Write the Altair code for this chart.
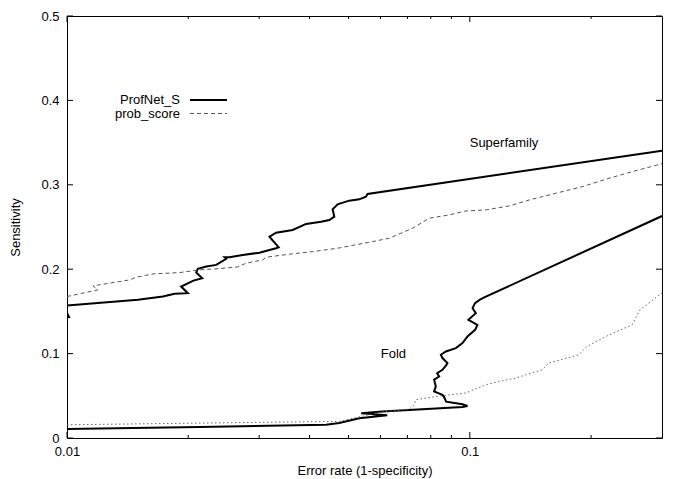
import altair as alt
import pandas as pd

# ---- data ----
# Superfamily, ProfNet_S (solid black)
sf_pn_x = [0.0098, 0.01012, 0.0098, 0.0100, 0.0150, 0.0173, 0.0185, 0.01995, 0.0192, 0.0206,
           0.02166, 0.02093, 0.02112, 0.02216, 0.02347, 0.02484, 0.0246, 0.02531, 0.02731, 0.03004,
           0.03181, 0.03304, 0.03353, 0.03181, 0.03304, 0.03633, 0.03922, 0.04273, 0.04479, 0.04609,
           0.04565, 0.04697, 0.05019, 0.05315, 0.05522, 0.05573, 0.300]
sf_pn_y = [0.1425, 0.1432, 0.1565, 0.157, 0.1637, 0.1676, 0.1708, 0.1716, 0.1794, 0.1865,
           0.1893, 0.1960, 0.2004, 0.2031, 0.2051, 0.2122, 0.2142, 0.2142, 0.2169, 0.2196,
           0.2228, 0.2249, 0.2260, 0.2386, 0.2433, 0.2465, 0.2536, 0.2563, 0.2583, 0.2622,
           0.2710, 0.2769, 0.2812, 0.2828, 0.2859, 0.2891, 0.3405]

# Superfamily, prob_score (dashed grey)
sf_ps_x = [0.0100, 0.01194, 0.01160, 0.01430, 0.01486, 0.01633, 0.01903, 0.02133, 0.02391, 0.02650,
           0.02784, 0.03061, 0.03120, 0.03565, 0.04073, 0.04743, 0.05735, 0.06310, 0.07208, 0.07928,
           0.08885, 0.09775, 0.1095, 0.1252, 0.1403, 0.1633, 0.1902, 0.2215, 0.2529, 0.300]
sf_ps_y = [0.1676, 0.1755, 0.1802, 0.1873, 0.1905, 0.1944, 0.1960, 0.1992, 0.2007, 0.2027,
           0.2071, 0.2110, 0.2142, 0.2178, 0.2208, 0.2252, 0.2327, 0.2367, 0.2485, 0.2604,
           0.2643, 0.2690, 0.2702, 0.2749, 0.2820, 0.2899, 0.2978, 0.3077, 0.3155, 0.3250]

# Fold, ProfNet_S (solid black)
fold_pn_x = [0.0100, 0.02133, 0.04395, 0.04742, 0.05316, 0.06237, 0.05376, 0.06062, 0.09588, 0.09865,
             0.09588, 0.08734, 0.08635, 0.08550, 0.08155, 0.08233, 0.08155, 0.08392, 0.08296, 0.08553,
             0.08721, 0.08802, 0.08553, 0.08475, 0.08721, 0.09232, 0.09588, 0.09865, 0.1031, 0.1044,
             0.09920, 0.1035, 0.1016, 0.1030, 0.1060, 0.1086, 0.300]
fold_pn_y = [0.0107, 0.0130, 0.0157, 0.0178, 0.0233, 0.0270, 0.0293, 0.0315, 0.0367, 0.0380,
             0.0400, 0.0430, 0.0485, 0.0512, 0.0552, 0.0611, 0.0690, 0.0729, 0.0767, 0.0808,
             0.0856, 0.0888, 0.0947, 0.0986, 0.1025, 0.1065, 0.1124, 0.1202, 0.1282, 0.1341,
             0.1400, 0.1479, 0.1538, 0.1598, 0.1640, 0.1666, 0.2630]

# Fold, prob_score (dotted grey)
fold_ps_x = [0.0100, 0.04742, 0.05960, 0.07073, 0.07278, 0.07346, 0.08233, 0.09775, 0.1095, 0.1182,
             0.1300, 0.1514, 0.1572, 0.1866, 0.1939, 0.2173, 0.2529, 0.2644, 0.300]
fold_ps_y = [0.0157, 0.0197, 0.0303, 0.0343, 0.0394, 0.0453, 0.0492, 0.0533, 0.0631, 0.0670,
             0.0710, 0.0808, 0.0888, 0.0986, 0.1075, 0.1202, 0.1341, 0.1518, 0.1720]

# annotations
ann_labels = ["Superfamily", "Fold"]
ann_x = [0.1216, 0.0646]
ann_y = [0.3495, 0.0998]

legend_names = ["ProfNet_S", "prob_score"]

# axis ticks
x_major = [0.01, 0.1]
x_minor = [0.02, 0.03, 0.04, 0.05, 0.06, 0.07, 0.08, 0.09, 0.2]
y_major = [0.0, 0.1, 0.2, 0.3, 0.4, 0.5]

FONT = "Liberation Sans"
W, H = 595, 422


def frame(xs, ys, name):
    return pd.DataFrame({"x": xs, "y": ys, "curve": name, "i": list(range(len(xs)))})


xscale = alt.Scale(type="log", domain=[0.01, 0.3], nice=False)
yscale = alt.Scale(domain=[0, 0.5], nice=False)

x_axis = alt.Axis(values=x_major, format="~g", ticks=False, domain=False, grid=False,
                  labelFlush=False, labelOverlap=False,
                  labelPadding=7, labelFontSize=13, labelFont=FONT, labelColor="black",
                  title="Error rate (1-specificity)", titleFont=FONT, titleFontSize=13,
                  titleFontWeight="normal", titleColor="black",
                  titleX=W / 2, titleY=32, titleBaseline="middle", titleAlign="center")
y_axis = alt.Axis(values=y_major, format="~g", ticks=False, domain=False, grid=False,
                  labelFlush=False, labelOverlap=False,
                  labelPadding=8, labelFontSize=13, labelFont=FONT, labelColor="black",
                  title="Sensitivity", titleFont=FONT, titleFontSize=13,
                  titleFontWeight="normal", titleColor="black",
                  titleX=-45, titleY=H / 2, titleAngle=-90, titleBaseline="bottom",
                  titleAlign="center")


def X():
    return alt.X("x:Q", scale=xscale, axis=x_axis, title="Error rate (1-specificity)")


def Y():
    return alt.Y("y:Q", scale=yscale, axis=y_axis, title="Sensitivity")


profnet = pd.concat([frame(sf_pn_x, sf_pn_y, "Superfamily"), frame(fold_pn_x, fold_pn_y, "Fold")])

pn_layer = alt.Chart(profnet).mark_line(
    color="black", strokeWidth=2, clip=True, strokeJoin="miter", strokeMiterLimit=3
).encode(x=X(), y=Y(), detail="curve:N", order="i:Q")

sf_ps_layer = alt.Chart(frame(sf_ps_x, sf_ps_y, "Superfamily")).mark_line(
    color="#555555", strokeWidth=1, strokeDash=[4, 3], clip=True
).encode(x=X(), y=Y(), order="i:Q")

fold_ps_layer = alt.Chart(frame(fold_ps_x, fold_ps_y, "Fold")).mark_line(
    color="#666666", strokeWidth=1, strokeDash=[1.5, 2.5], clip=True
).encode(x=X(), y=Y(), order="i:Q")

ann_layer = alt.Chart(pd.DataFrame({"label": ann_labels, "x": ann_x, "y": ann_y})).mark_text(
    font=FONT, fontSize=13, color="black", align="center", baseline="middle"
).encode(x=X(), y=Y(), text="label:N")

# inward ticks on all four sides
xt_major = pd.DataFrame({"x": x_major})
xt_minor = pd.DataFrame({"x": x_minor})
yt_major = pd.DataFrame({"y": y_major})


def xticks(df, length):
    bottom = alt.Chart(df).mark_rule(color="black", strokeWidth=1).encode(
        x=X(), y=alt.value(H), y2=alt.value(H - length))
    top = alt.Chart(df).mark_rule(color="black", strokeWidth=1).encode(
        x=X(), y=alt.value(0), y2=alt.value(length))
    return [bottom, top]


def yticks(df, length):
    left = alt.Chart(df).mark_rule(color="black", strokeWidth=1).encode(
        y=Y(), x=alt.value(0), x2=alt.value(length))
    right = alt.Chart(df).mark_rule(color="black", strokeWidth=1).encode(
        y=Y(), x=alt.value(W), x2=alt.value(W - length))
    return [left, right]


tick_layers = xticks(xt_major, 6) + xticks(xt_minor, 3) + yticks(yt_major, 6)

# key (text on the left, line sample on the right, as in the reference)
leg_text1 = alt.Chart(alt.Data(values=[{"label": legend_names[0]}])).mark_text(
    font=FONT, fontSize=13, color="black", align="right", baseline="middle"
).encode(text="label:N", x=alt.value(113), y=alt.value(84))
leg_text2 = alt.Chart(alt.Data(values=[{"label": legend_names[1]}])).mark_text(
    font=FONT, fontSize=13, color="black", align="right", baseline="middle"
).encode(text="label:N", x=alt.value(113), y=alt.value(97.5))
leg_line1 = alt.Chart(alt.Data(values=[{"label": legend_names[0]}])).mark_rule(
    color="black", strokeWidth=2
).encode(x=alt.value(123), x2=alt.value(160), y=alt.value(84))
leg_line2 = alt.Chart(alt.Data(values=[{"label": legend_names[1]}])).mark_rule(
    color="#555555", strokeWidth=1, strokeDash=[4, 3]
).encode(x=alt.value(123), x2=alt.value(160), y=alt.value(97.5))

chart = alt.layer(
    pn_layer, sf_ps_layer, fold_ps_layer, ann_layer, *tick_layers,
    leg_text1, leg_text2, leg_line1, leg_line2,
).properties(
    width=W, height=H,
    padding={"left": 59, "top": 8, "right": 15, "bottom": 40},
    autosize=alt.AutoSizeParams(type="none"),
).configure_view(
    stroke="black", strokeWidth=1
)

chart.save("out.html", embed_options={"renderer": "svg", "actions": False})
